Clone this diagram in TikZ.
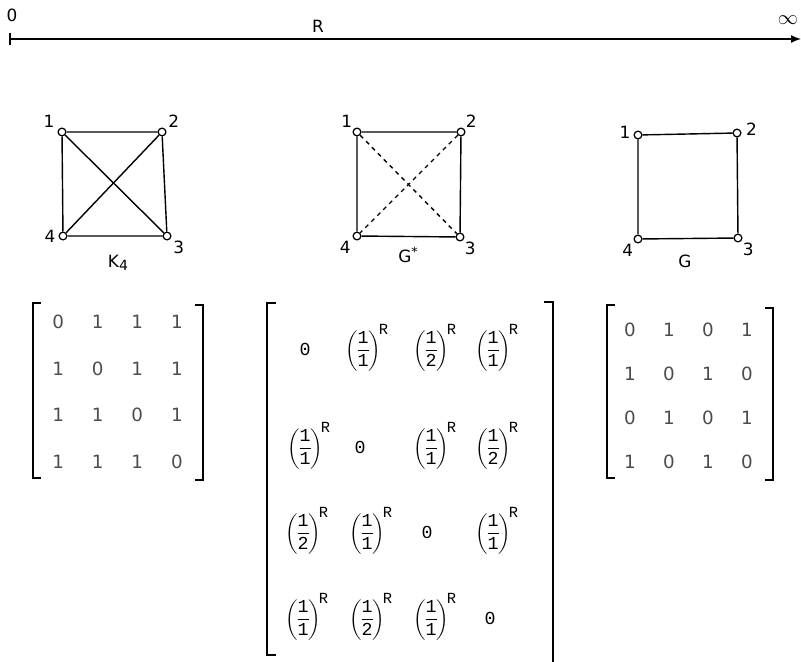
\documentclass[tikz,border=0pt]{standalone}
\usepackage{amsmath}
\usepackage{fontspec}
\setmainfont{DejaVu Sans}
\setmonofont{Liberation Mono}
\usetikzlibrary{positioning, arrows.meta}
\newcommand{\rpow}[1]{$\nulldelimiterspace=0pt\left(\dfrac{\mathtt{1}}{\mathtt{#1}}\right)^{\!\text{\fontsize{11}{11}\selectfont\ttfamily R}}$}

\begin{document}
\begin{tikzpicture}[x=0.025cm, y=-0.025cm,
    vtx/.style={circle, draw, line width=0.9pt, fill=white, inner sep=0pt, minimum size=5.5pt},
    edge/.style={line width=1pt},
    lbl/.style={font=\fontsize{12}{13}\selectfont, inner sep=1pt},
    ent/.style={font=\fontsize{13}{15}\selectfont, text=black!70},
    rent/.style={font=\fontsize{13}{16}\ttfamily, anchor=base, inner sep=0pt},
    brk/.style={line width=1.1pt}]
  \useasboundingbox (0,0) rectangle (801,662);

  % R axis
  \coordinate (ax0) at (10,39);
  \coordinate (ax1) at (801,39);
  \draw[edge, -{Latex[length=2.5mm, width=2mm]}] (ax0) -- (ax1);
  \draw[edge] (ax0) ++(0,-6) -- ++(0,12);
  \node[lbl] (zero) at (12,15) {0};
  \node[lbl] (rr) at (318,26) {R};
  \node[lbl, font=\fontsize{14}{14}\selectfont] (inf) at (788,20) {$\infty$};

  % K4
  \node[vtx] (k1) at (62,132) {};
  \node[vtx] (k2) at (162,132) {};
  \node[vtx] (k3) at (167,236) {};
  \node[vtx] (k4) at (63,236) {};
  \draw[edge] (k1) -- (k2) -- (k3) -- (k4) -- (k1);
  \draw[edge] (k1) -- (k3);
  \draw[edge] (k2) -- (k4);
  \node[lbl, above left=0pt and 2pt of k1] {1};
  \node[lbl, above right=0pt and 1pt of k2] {2};
  \node[lbl, below right=0pt and 1pt of k3] {3};
  \node[lbl, left=1pt of k4] {4};
  \node[lbl] (kname) at (118,263) {K\raisebox{-0.35ex}{\fontsize{10}{10}\selectfont 4}};

  % G*
  \node[vtx] (s1) at (357,132) {};
  \node[vtx] (s2) at (461,132) {};
  \node[vtx] (s3) at (460,237) {};
  \node[vtx] (s4) at (357,236) {};
  \draw[edge] (s1) -- (s2) -- (s3) -- (s4) -- (s1);
  \draw[edge, dashed] (s1) -- (s3);
  \draw[edge, dashed] (s2) -- (s4);
  \node[lbl, above left=0pt of s1] {1};
  \node[lbl, above right=0pt of s2] {2};
  \node[lbl, below right=0pt of s3] {3};
  \node[lbl, below left=0pt and 1pt of s4] {4};
  \node[lbl] (sname) at (408,255) {G\raisebox{0.7ex}{\fontsize{9}{9}\selectfont *}};

  % G
  \node[vtx] (g1) at (638,135) {};
  \node[vtx] (g2) at (737,133) {};
  \node[vtx] (g3) at (738,238) {};
  \node[vtx] (g4) at (638,239) {};
  \draw[edge] (g1) -- (g2) -- (g3) -- (g4) -- (g1);
  \node[lbl, left=1pt of g1, yshift=2pt] {1};
  \node[lbl, right=2pt of g2, yshift=3pt] {2};
  \node[lbl, below right=0pt of g3] {3};
  \node[lbl, below left=0pt of g4] {4};
  \node[lbl] (gname) at (685,261) {G};

  % adjacency of K4
  \foreach \row [count=\r] in {{0,1,1,1},{1,0,1,1},{1,1,0,1},{1,1,1,0}}
    \foreach \v [count=\c] in \row
      \node[ent] (ka\r\c) at ({18.5+39.6*\c}, {275+46.7*\r}) {\v};
  \draw[brk] (41,303) -- (33,303) -- (33,478) -- (41,478);
  \draw[brk] (195,305) -- (203,305) -- (203,480) -- (195,480);

  % adjacency of G
  \foreach \row [count=\r] in {{0,1,0,1},{1,0,1,0},{0,1,0,1},{1,0,1,0}}
    \foreach \v [count=\c] in \row
      \node[ent] (ga\r\c) at ({591+39*\c}, {286+44*\r}) {\v};
  \draw[brk] (615,305) -- (607,305) -- (607,478) -- (615,478);
  \draw[brk] (765,308) -- (773,308) -- (773,480) -- (765,480);

  % matrix of G*
  \node[rent] (ra11) at (305,355) {0};
  \node[rent] (ra12) at (367,355) {\rpow{1}};
  \node[rent] (ra13) at (435,355) {\rpow{2}};
  \node[rent] (ra14) at (497,355) {\rpow{1}};
  \node[rent] (ra21) at (309,453) {\rpow{1}};
  \node[rent] (ra22) at (360,453) {0};
  \node[rent] (ra23) at (435,453) {\rpow{1}};
  \node[rent] (ra24) at (497,453) {\rpow{2}};
  \node[rent] (ra31) at (307,538) {\rpow{2}};
  \node[rent] (ra32) at (371,538) {\rpow{1}};
  \node[rent] (ra33) at (427,538) {0};
  \node[rent] (ra34) at (497,538) {\rpow{1}};
  \node[rent] (ra41) at (307,624) {\rpow{1}};
  \node[rent] (ra42) at (371,624) {\rpow{2}};
  \node[rent] (ra43) at (435,624) {\rpow{1}};
  \node[rent] (ra44) at (490,624) {0};
  \draw[brk] (276,303) -- (267,303) -- (267,655) -- (276,655);
  \draw[brk] (544,302) -- (553,302) -- (553,662);
\end{tikzpicture}
\end{document}
